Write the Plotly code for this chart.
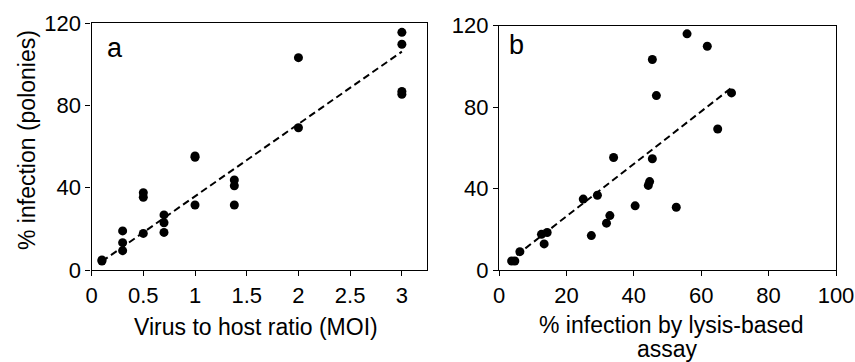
import plotly.graph_objects as go

# Panel a: MOI vs % infection (polonies)
moi = [0.1, 0.1, 0.3, 0.3, 0.3, 0.5, 0.5, 0.5, 0.7, 0.7, 0.7, 1.0, 1.0, 1.0,
       1.38, 1.38, 1.38, 2.0, 2.0, 3.0, 3.0, 3.0, 3.0]
polonies_a = [4.9, 4.4, 19.0, 13.3, 9.4, 37.6, 35.4, 17.8, 26.8, 23.0, 18.3, 55.5, 54.8, 31.6,
              43.8, 41.0, 31.6, 103.3, 69.2, 115.6, 109.8, 86.8, 85.5]
fit_a_x = [0.1, 3.0]
fit_a_y = [4.2, 106.2]

# Panel b: lysis-based assay vs % infection (polonies)
lysis = [3.75, 4.7, 6.2, 12.6, 14.3, 13.4, 25.0, 27.4, 29.2, 31.9, 32.9, 34.0, 40.4,
         44.3, 44.7, 45.5, 45.5, 46.7, 52.6, 55.8, 61.8, 64.9, 69.0]
polonies_b = [4.4, 4.4, 9.0, 17.5, 18.4, 12.8, 34.8, 16.9, 36.7, 23.0, 26.7, 55.2, 31.5,
              41.5, 43.4, 54.6, 103.3, 85.6, 30.8, 115.9, 109.8, 69.2, 86.9]
fit_b_x = [5.25, 69.6]
fit_b_y = [7.3, 90.2]

x_ticks_a = [0, 0.5, 1, 1.5, 2, 2.5, 3]
x_ticks_b = [0, 20, 40, 60, 80, 100]
y_ticks = [0, 40, 80, 120]

title_y = "% infection (polonies)"
title_xa = "Virus to host ratio (MOI)"
title_xb_lines = ["% infection by lysis-based", "assay"]

FONT = "Liberation Sans, Arial, Helvetica, sans-serif"
W, H = 855, 362
TICK = 22
TITLE = 23

fig = go.Figure()
mk = dict(color="black", size=9)
dash = dict(color="black", width=2, dash="7px,4px")

fig.add_trace(go.Scatter(x=fit_a_x, y=fit_a_y, mode="lines", line=dash,
                         xaxis="x", yaxis="y", showlegend=False))
fig.add_trace(go.Scatter(x=moi, y=polonies_a, mode="markers", marker=mk,
                         xaxis="x", yaxis="y", showlegend=False))
fig.add_trace(go.Scatter(x=fit_b_x, y=fit_b_y, mode="lines", line=dash,
                         xaxis="x2", yaxis="y2", showlegend=False))
fig.add_trace(go.Scatter(x=lysis, y=polonies_b, mode="markers", marker=mk,
                         xaxis="x2", yaxis="y2", showlegend=False))

axis_common = dict(showline=True, linecolor="black", linewidth=1.3, mirror=True,
                   ticks="outside", ticklen=5, tickwidth=1.2, tickcolor="black",
                   showgrid=False, zeroline=False, automargin=False,
                   tickfont=dict(size=TICK, color="black", family=FONT))

def px_x(p):
    return p / W

def px_y(p):
    return (H - p) / H

tfont = dict(size=TITLE, family=FONT, color="black")
annotations = [
    dict(text="a", x=0.04, y=0.97, xref="x domain", yref="y domain", xanchor="left",
         yanchor="top", showarrow=False, font=dict(size=27, family=FONT, color="black")),
    dict(text="b", x=0.025, y=0.99, xref="x2 domain", yref="y2 domain", xanchor="left",
         yanchor="top", showarrow=False, font=dict(size=27, family=FONT, color="black")),
    dict(text=title_y, x=px_x(27), y=px_y(140), xref="paper", yref="paper",
         textangle=-90, xanchor="center", yanchor="middle", showarrow=False, font=tfont),
    dict(text=title_xa, x=px_x(256), y=px_y(327), xref="paper", yref="paper",
         xanchor="center", yanchor="middle", showarrow=False, font=tfont),
    dict(text=title_xb_lines[0], x=px_x(671), y=px_y(325), xref="paper", yref="paper",
         xanchor="center", yanchor="middle", showarrow=False, font=tfont),
    dict(text=title_xb_lines[1], x=px_x(667), y=px_y(349), xref="paper", yref="paper",
         xanchor="center", yanchor="middle", showarrow=False, font=tfont),
]

fig.update_layout(
    width=W, height=H,
    margin=dict(l=0, r=0, t=0, b=0),
    paper_bgcolor="white", plot_bgcolor="white",
    font=dict(family=FONT, color="black", size=TITLE),
    xaxis=dict(domain=[px_x(91.6), px_x(426.7)], range=[0, 3.24], tickvals=x_ticks_a,
               ticktext=[f"{v:g}" for v in x_ticks_a], anchor="y", **axis_common),
    yaxis=dict(domain=[px_y(270), px_y(23.3)], range=[0, 120], tickvals=y_ticks, anchor="x",
               **axis_common),
    xaxis2=dict(domain=[px_x(499), px_x(836)], range=[0, 100], tickvals=x_ticks_b, anchor="y2",
                **axis_common),
    yaxis2=dict(domain=[px_y(270), px_y(25.5)], range=[0, 120], tickvals=y_ticks, anchor="x2",
                **axis_common),
    annotations=annotations,
)

fig.write_html("out.html")
